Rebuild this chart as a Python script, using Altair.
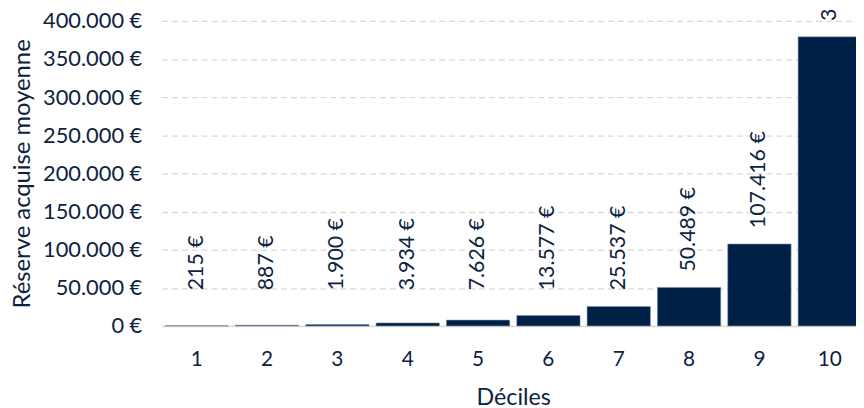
import altair as alt
import pandas as pd

deciles = [1, 2, 3, 4, 5, 6, 7, 8, 9, 10]
values = [215, 887, 1900, 3934, 7626, 13577, 25537, 50489, 107416, 378947]

df = pd.DataFrame({"decile": deciles, "value": values})

FONT = "Lato"
NAVY = "#002147"
TEXT = "#0d2240"
GRID = "#d9d9d9"
FMT = "replace(format(datum.value, ',.0f'), regexp(',', 'g'), '.') + ' €'"

x_axis = alt.Axis(
    labelAngle=0,
    labelFont=FONT,
    labelFontSize=21,
    labelColor=TEXT,
    labelPadding=23,
    ticks=False,
    domainColor=GRID,
    domainWidth=1.5,
    titleFont=FONT,
    titleFontSize=23.5,
    titleFontWeight="normal",
    titleColor=TEXT,
    titlePadding=16,
)
y_axis = alt.Axis(
    values=[0, 50000, 100000, 150000, 200000, 250000, 300000, 350000, 400000],
    labelExpr=FMT,
    labelFont=FONT,
    labelFontSize=22,
    labelColor=TEXT,
    labelPadding=20,
    labelOverlap=False,
    ticks=False,
    domain=False,
    grid=True,
    gridColor=GRID,
    gridDash=[6, 4],
    gridWidth=1.3,
    titleFont=FONT,
    titleFontSize=24,
    titleFontWeight="normal",
    titleColor=TEXT,
    titlePadding=8,
)
x_scale = alt.Scale(paddingInner=0.1, paddingOuter=0.05, range=[0, 710])
y_scale = alt.Scale(domain=[0, 400000])

base = alt.Chart(df)

bars = base.mark_bar(color=NAVY, stroke="#7f8ea3", strokeWidth=0.6).encode(
    x=alt.X("decile:O", title="Déciles", scale=x_scale, axis=x_axis),
    y=alt.Y("value:Q", title="Réserve acquise moyenne", scale=y_scale, axis=y_axis),
)

labels = base.transform_calculate(
    labelpos="max(datum.value, 26000)",
    label=FMT,
).mark_text(
    angle=270,
    align="left",
    baseline="middle",
    dx=16,
    font=FONT,
    fontSize=21.5,
    color=TEXT,
).encode(
    x=alt.X("decile:O", title="Déciles", scale=x_scale, axis=x_axis),
    y=alt.Y("labelpos:Q", title="Réserve acquise moyenne", scale=y_scale, axis=y_axis),
    text="label:N",
)

chart = (
    alt.layer(bars, labels)
    .properties(
        width=701,
        height=308,
        autosize=alt.AutoSizeParams(type="none"),
        padding={"left": 155, "top": 11, "right": 0, "bottom": 90},
    )
    .configure_view(stroke=None)
)

chart.save("out.html", embed_options={"renderer": "svg", "actions": False})
